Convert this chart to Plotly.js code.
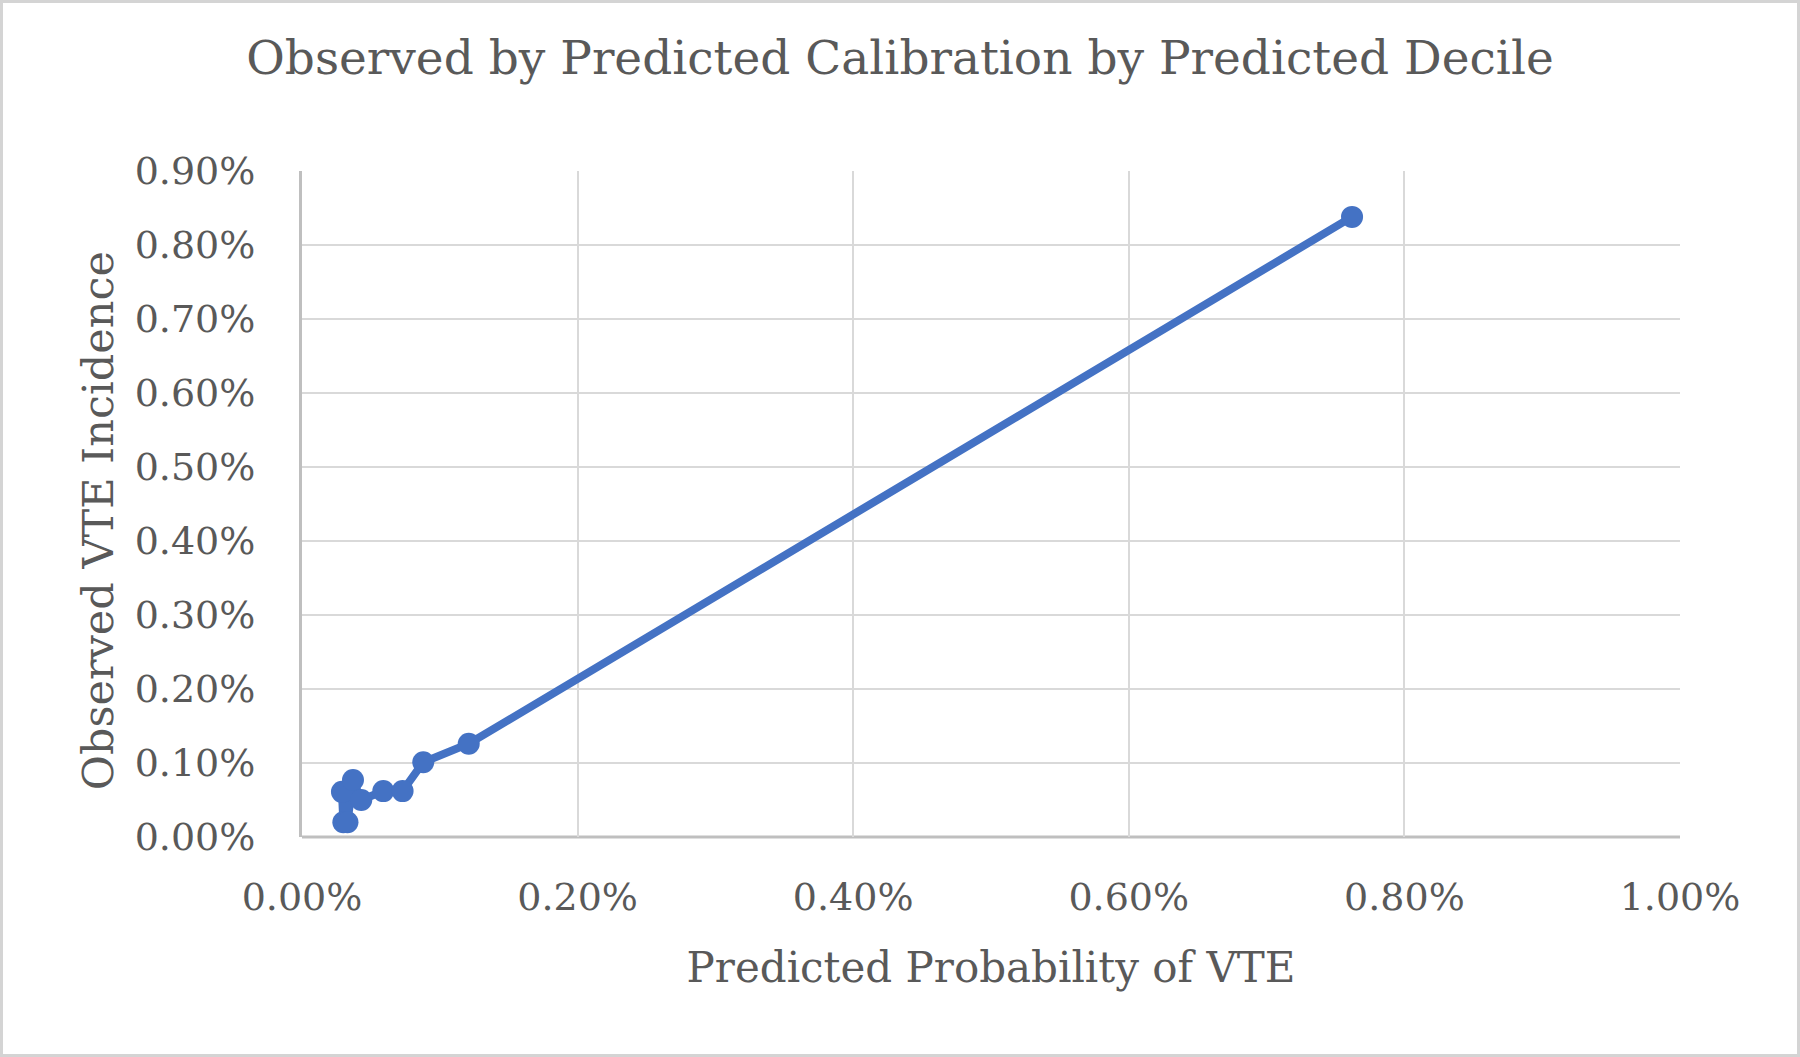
<!DOCTYPE html>
<html>
<head>
<meta charset="utf-8">
<script src="https://cdn.plot.ly/plotly-3.0.1.min.js"></script>
<style>
html,body{margin:0;padding:0;background:#fff;}
#chart{width:1800px;height:1057px;box-sizing:border-box;border:3px solid #d4d4d4;}
</style>
</head>
<body>
<div id="chart"></div>
<script>
// Predicted probability of VTE (%) by decile
const predicted = [0.029, 0.030, 0.033, 0.037, 0.043, 0.059, 0.073, 0.088, 0.121, 0.762];
// Observed VTE incidence (%)
const observed  = [0.061, 0.020, 0.020, 0.077, 0.050, 0.062, 0.062, 0.101, 0.126, 0.838];

const xTicks = [0, 0.2, 0.4, 0.6, 0.8, 1.0];
const xTickLabels = ['0.00%', '0.20%', '0.40%', '0.60%', '0.80%', '1.00%'];
const yTicks = [0, 0.1, 0.2, 0.3, 0.4, 0.5, 0.6, 0.7, 0.8, 0.9];
const yTickLabels = ['0.00%', '0.10%', '0.20%', '0.30%', '0.40%', '0.50%', '0.60%', '0.70%', '0.80%', '0.90%'];

const fontFam = '"DejaVu Serif", "Liberation Serif", serif';
const textCol = '#595959';

const trace = {
  x: predicted,
  y: observed,
  type: 'scatter',
  mode: 'lines+markers',
  line: {color: '#4472C4', width: 8},
  marker: {color: '#4472C4', size: 22},
  hoverinfo: 'x+y'
};

const layout = {
  width: 1794,
  height: 1051,
  margin: {l: 299, r: 117, t: 168, b: 217},
  paper_bgcolor: '#ffffff',
  plot_bgcolor: '#ffffff',
  showlegend: false,
  title: {
    text: 'Observed by Predicted Calibration by Predicted Decile',
    font: {family: fontFam, size: 47, color: textCol},
    x: 0.5, xanchor: 'center', y: 0.948, yanchor: 'middle'
  },
  xaxis: {
    range: [0, 1.0],
    tickvals: xTicks,
    ticktext: xTickLabels,
    showgrid: true,
    gridcolor: '#d9d9d9',
    gridwidth: 2,
    zeroline: false,
    showline: false,
    ticks: '',
    tickfont: {family: fontFam, size: 38, color: textCol},
    ticklabelstandoff: 34,
    title: {text: 'Predicted Probability of VTE', font: {family: fontFam, size: 42, color: textCol}, standoff: 34}
  },
  yaxis: {
    range: [0, 0.9],
    tickvals: yTicks,
    ticktext: yTickLabels,
    showgrid: true,
    gridcolor: '#d9d9d9',
    gridwidth: 2,
    zeroline: false,
    showline: true,
    linecolor: '#bfbfbf',
    linewidth: 3,
    ticks: '',
    tickfont: {family: fontFam, size: 38, color: textCol},
    ticklabelstandoff: 36
  },
  annotations: [
    {
      text: 'Observed VTE Incidence',
      xref: 'paper', yref: 'paper',
      x: -0.148, y: 0.474,
      xanchor: 'center', yanchor: 'middle',
      textangle: -90,
      showarrow: false,
      font: {family: fontFam, size: 43, color: textCol}
    }
  ],
  shapes: [
    {type: 'line', xref: 'paper', yref: 'paper', x0: 0, x1: 1, y0: 0, y1: 0, line: {color: '#bfbfbf', width: 3}, layer: 'below'}
  ]
};

Plotly.newPlot('chart', [trace], layout, {displayModeBar: false, staticPlot: true});
</script>
</body>
</html>
